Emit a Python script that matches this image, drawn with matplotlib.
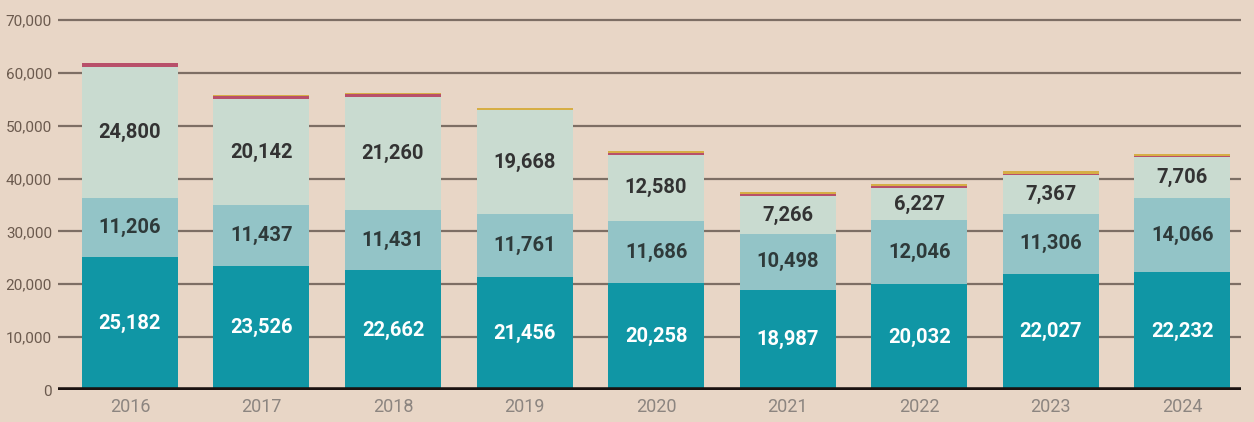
import matplotlib.pyplot as plt
import numpy as np

# data
years = ["2016", "2017", "2018", "2019", "2020", "2021", "2022", "2023", "2024"]
bottom_vals = [25182, 23526, 22662, 21456, 20258, 18987, 20032, 22027, 22232]
middle_vals = [11206, 11437, 11431, 11761, 11686, 10498, 12046, 11306, 14066]
top_vals = [24800, 20142, 21260, 19668, 12580, 7266, 6227, 7367, 7706]
# thin strips on top of each bar (too small to be labelled)
red_vals = [700, 450, 600, 150, 250, 400, 350, 200, 200]
yellow_vals = [0, 250, 150, 400, 400, 350, 300, 450, 450]
y_ticks = [0, 10000, 20000, 30000, 40000, 50000, 60000, 70000]

bg = "#e8d6c6"
c_dark = "#1096a5"
c_mid = "#93c4c7"
c_light = "#c9dbd0"
c_red = "#b8506a"
c_yellow = "#d6ae45"

plt.rcParams["font.family"] = ["Roboto", "DejaVu Sans"]

fig = plt.figure(figsize=(12.54, 4.22), dpi=100, facecolor=bg)
ax = fig.add_axes([0.0459, 0.0758, 0.9441, 0.9019])
ax.set_facecolor(bg)

x = np.arange(len(years))
w = 0.73

# gridlines behind the bars
for v in y_ticks[1:]:
    ax.axhline(v, color="#7d6e64", lw=1.6, zorder=1)

b1 = ax.bar(x, bottom_vals, w, color=c_dark, zorder=2)
base2 = np.array(bottom_vals)
b2 = ax.bar(x, middle_vals, w, bottom=base2, color=c_mid, zorder=2)
base3 = base2 + np.array(middle_vals)
b3 = ax.bar(x, top_vals, w, bottom=base3, color=c_light, zorder=2)
base4 = base3 + np.array(top_vals)
ax.bar(x, red_vals, w, bottom=base4, color=c_red, zorder=2)
base5 = base4 + np.array(red_vals)
ax.bar(x, yellow_vals, w, bottom=base5, color=c_yellow, zorder=2)

fmt = lambda v: f"{v:,.0f}"
ax.bar_label(b1, labels=[fmt(v) for v in bottom_vals], label_type="center",
             color="white", fontsize=14.5, fontweight="bold")
ax.bar_label(b2, labels=[fmt(v) for v in middle_vals], label_type="center",
             color="#2e3a3a", fontsize=14.5, fontweight="bold")
ax.bar_label(b3, labels=[fmt(v) for v in top_vals], label_type="center",
             color="#333333", fontsize=14.5, fontweight="bold")

# heavy baseline
ax.axhline(0, color="#1a1210", lw=4, zorder=3)

ax.set_xlim(-0.55, 8.45)
ax.set_ylim(0, 72000)
ax.set_xticks(x)
ax.set_xticklabels(years, color="#8c8580", fontsize=13)
ax.set_yticks(y_ticks)
ax.set_yticklabels([fmt(v) for v in y_ticks], color="#6b5a4e", fontsize=11)
ax.tick_params(axis="y", length=0, pad=4)
ax.tick_params(axis="x", length=0, pad=6)
for s in ax.spines.values():
    s.set_visible(False)

fig.savefig("out.png", dpi=100, facecolor=bg)
